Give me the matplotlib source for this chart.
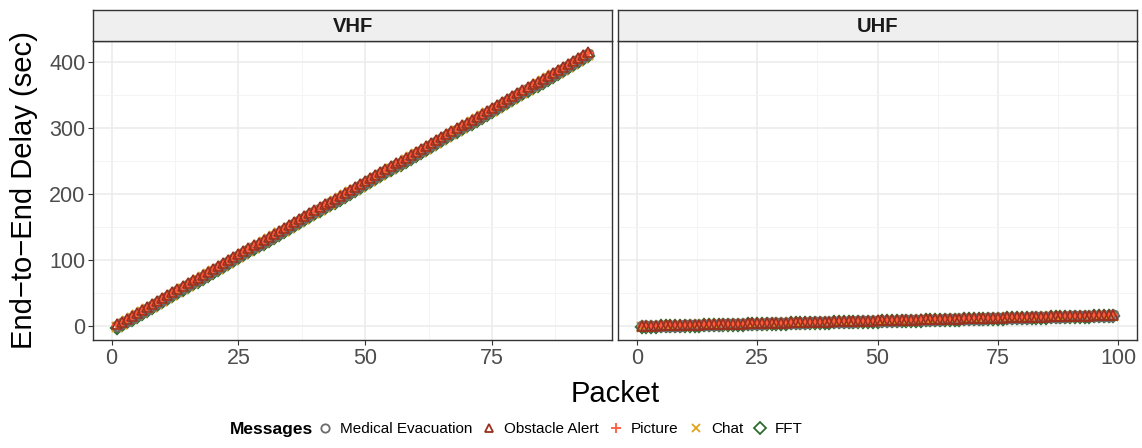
import numpy as np
import matplotlib.pyplot as plt
from matplotlib.lines import Line2D

plt.rcParams['font.family'] = ['Liberation Sans', 'DejaVu Sans']

# end-to-end delay per packet (sec), one list per band
vhf_delay = [0.0, 4.4, 8.9, 13.3, 17.7, 22.2, 26.6, 31.0, 35.4, 39.9,
             44.3, 48.7, 53.2, 57.6, 62.0, 66.5, 70.9, 75.3, 79.7, 84.2,
             88.6, 93.0, 97.5, 101.9, 106.3, 110.8, 115.2, 119.6, 124.0, 128.5,
             132.9, 137.3, 141.8, 146.2, 150.6, 155.1, 159.5, 163.9, 168.3, 172.8,
             177.2, 181.6, 186.1, 190.5, 194.9, 199.4, 203.8, 208.2, 212.6, 217.1,
             221.5, 225.9, 230.4, 234.8, 239.2, 243.7, 248.1, 252.5, 256.9, 261.4,
             265.8, 270.2, 274.7, 279.1, 283.5, 288.0, 292.4, 296.8, 301.2, 305.7,
             310.1, 314.5, 319.0, 323.4, 327.8, 332.3, 336.7, 341.1, 345.5, 350.0,
             354.4, 358.8, 363.3, 367.7, 372.1, 376.6, 381.0, 385.4, 389.8, 394.3,
             398.7, 403.1, 407.6, 412.0]
uhf_delay = [0.0, 0.2, 0.3, 0.5, 0.7, 0.8, 1.0, 1.2, 1.3, 1.5,
             1.7, 1.8, 2.0, 2.2, 2.4, 2.5, 2.7, 2.9, 3.0, 3.2,
             3.4, 3.5, 3.7, 3.9, 4.0, 4.2, 4.4, 4.5, 4.7, 4.9,
             5.0, 5.2, 5.4, 5.5, 5.7, 5.9, 6.0, 6.2, 6.4, 6.6,
             6.7, 6.9, 7.1, 7.2, 7.4, 7.6, 7.7, 7.9, 8.1, 8.2,
             8.4, 8.6, 8.7, 8.9, 9.1, 9.2, 9.4, 9.6, 9.7, 9.9,
             10.1, 10.2, 10.4, 10.6, 10.8, 10.9, 11.1, 11.3, 11.4, 11.6,
             11.8, 11.9, 12.1, 12.3, 12.4, 12.6, 12.8, 12.9, 13.1, 13.3,
             13.4, 13.6, 13.8, 13.9, 14.1, 14.3, 14.4, 14.6, 14.8, 15.0,
             15.1, 15.3, 15.5, 15.6, 15.8, 16.0, 16.1, 16.3, 16.5]

messages = ['Medical Evacuation', 'Obstacle Alert', 'Picture', 'Chat', 'FFT']
# per-message lag on top of the band delay (sec)
vhf_lag = [0.0, 3.0, 2.0, -1.0, -3.0]
uhf_lag = [0.0, 0.8, 0.5, -0.3, -0.8]

markers = ['o', '^', '+', 'x', 'D']
colors = ['#6b6b6b', '#9a2f1c', '#ff5a3c', '#e0a21b', '#2f6b2f']
msizes = [7, 7.5, 7, 7, 6]
edges = [1.6, 1.1, 1.7, 1.6, 1.6]
draw_order = [4, 3, 0, 2, 1]

bands = [('VHF', vhf_delay, vhf_lag, [0, 25, 50, 75]),
         ('UHF', uhf_delay, uhf_lag, [0, 25, 50, 75, 100])]

fig = plt.figure(figsize=(11.42, 4.48), dpi=100)
W, H = 1142, 448
panels = [(93, 612), (618, 1137)]
top, bot = 40.7, 340
strip_top = 10

ylo, yhi = -20.6, 432.6
for k, (name, delay, lag, xt) in enumerate(bands):
    x0, x1 = panels[k]
    ax = fig.add_axes([x0 / W, 1 - bot / H, (x1 - x0) / W, (bot - top) / H])
    pk = np.arange(1, len(delay) + 1)
    d = np.array(delay)
    for m in draw_order:
        ax.plot(pk, d + lag[m], linestyle='none', marker=markers[m],
                markersize=msizes[m], markerfacecolor='none',
                markeredgecolor=colors[m], markeredgewidth=edges[m])
    span = pk.max() - pk.min()
    ax.set_xlim(pk.min() - 0.05 * span, pk.max() + 0.05 * span)
    ax.set_ylim(ylo, yhi)
    ax.set_xticks(xt)
    ax.set_xticks([v + 12.5 for v in xt[:-1]] + ([xt[-1] + 12.5] if name == 'VHF' else []), minor=True)
    ax.set_yticks([0, 100, 200, 300, 400])
    ax.set_yticks([50, 150, 250, 350], minor=True)
    ax.grid(True, which='major', color='#ebebeb', linewidth=1.1)
    ax.grid(True, which='minor', color='#f3f3f3', linewidth=0.6)
    ax.set_axisbelow(True)
    for s in ax.spines.values():
        s.set_color('#333333')
        s.set_linewidth(1.0)
    ax.tick_params(which='major', length=3.5, width=0.8, color='#333333',
                   labelsize=15.5, labelcolor='#4d4d4d', pad=2)
    ax.tick_params(which='minor', length=0)
    if k == 0:
        ax.set_ylabel('End\u2212to\u2212End Delay (sec)', fontsize=21, labelpad=8)
    else:
        ax.tick_params(axis='y', which='major', length=0, labelleft=False)

    sx = fig.add_axes([x0 / W, 1 - top / H, (x1 - x0) / W, (top - strip_top) / H])
    sx.set_facecolor('#efefef')
    sx.set_xticks([])
    sx.set_yticks([])
    for s in sx.spines.values():
        s.set_color('#333333')
        s.set_linewidth(1.0)
    sx.text(0.5, 0.45, name, ha='center', va='center', fontsize=14.5,
            fontweight='bold', color='#1a1a1a', transform=sx.transAxes)

fig.text((93 + 1137) / 2 / W, 1 - 394 / H, 'Packet', ha='center', va='center',
         fontsize=21)

handles = [Line2D([], [], linestyle='none', marker=markers[m],
                  markersize=6 if m != 2 else 7, markerfacecolor='none',
                  markeredgecolor=colors[m], markeredgewidth=1.3)
           for m in range(len(messages))]
leg = fig.legend(handles, messages, loc='center left',
                 bbox_to_anchor=(317 / W, 1 - 429 / H), ncol=5, frameon=False,
                 fontsize=11, handlelength=1.0, handletextpad=0.5,
                 columnspacing=0.6, borderpad=0, borderaxespad=0)
fig.text(313 / W, 1 - 429 / H, 'Messages', ha='right', va='center',
         fontsize=12.5, fontweight='bold')

fig.savefig('out.png', dpi=100)
